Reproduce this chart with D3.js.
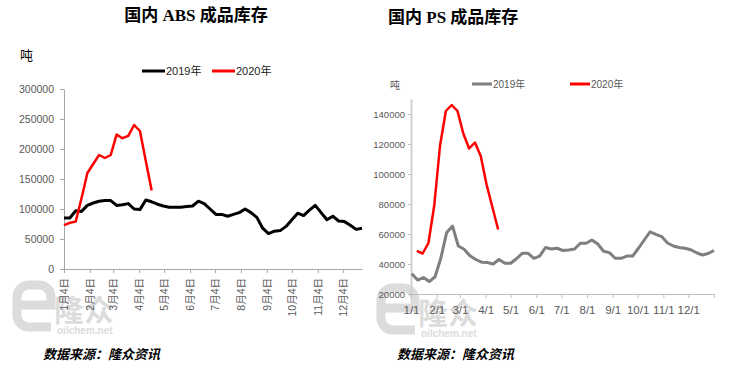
<!DOCTYPE html>
<html lang="zh">
<head>
<meta charset="utf-8">
<title>ABS / PS 成品库存</title>
<script src="https://d3js.org/d3.v7.min.js"></script>
<style>
  body { margin: 0; background: #fff; }
  svg text { font-family: Arial, "Liberation Sans", "Noto Sans CJK SC", sans-serif; }
  .title { font-family: "Liberation Serif", "Noto Sans CJK SC", serif; font-weight: bold; font-size: 17px; fill: #000; }
  .src { font-family: "Liberation Serif", "Noto Sans CJK SC", serif; font-weight: bold; font-style: italic; font-size: 13px; fill: #000; }
</style>
</head>
<body>
<div id="chart"></div>
<script>
// ---- ABS data (weekly, 2019 from 1/4, 2020 from 1/3 plotted on same week slots)
const absStart = "2019-01-04";
const abs2019 = [85000, 85000, 97000, 96000, 106000, 110000, 113000, 114000, 114000, 106000,
  107000, 109000, 100000, 99000, 115000, 112000, 108000, 105000, 103000, 103000,
  103000, 104000, 105000, 113000, 109000, 100000, 91000, 91000, 88000, 91000,
  94000, 100000, 94000, 86000, 68000, 59000, 63000, 64000, 71000, 82000,
  93000, 89000, 98000, 106000, 94000, 82000, 88000, 80000, 79000, 73000,
  66000, 68000];
const abs2020 = [73000, 77000, 79000, 118000, 160000, 175000, 190000, 185000, 190000, 224000,
  218000, 222000, 240000, 230000, 180000, 131000];
const absTicks = ["1月4日", "2月4日", "3月4日", "4月4日", "5月4日", "6月4日", "7月4日", "8月4日",
  "9月4日", "10月4日", "11月4日", "12月4日"];
const absYTicks = [0, 50000, 100000, 150000, 200000, 250000, 300000];

// ---- PS data (weekly, 2019 from 1/2, 2020 from 1/8 day-of-year)
const psStart2019 = "2019-01-02";
const ps2019 = [33500, 29300, 31000, 28300, 31500, 44000, 61000, 65300, 52000, 49800,
  45500, 43000, 41200, 41000, 40000, 43000, 40500, 40500, 43500, 47100,
  47100, 43800, 45300, 51000, 50000, 50500, 49000, 49300, 50000, 53800,
  53800, 56000, 53300, 48500, 47600, 43800, 43800, 45300, 45300, 50500,
  56000, 61500, 59800, 58300, 54000, 52000, 51000, 50500, 49500, 47500,
  46000, 47000, 49000];
const psStart2020 = "2019-01-08";
const ps2020 = [48700, 47000, 54000, 79000, 119000, 142000, 146000, 142000, 127000, 117000,
  121000, 112000, 93000, 78000, 63000];
const psTicks = ["1/1", "2/1", "3/1", "4/1", "5/1", "6/1", "7/1", "8/1", "9/1", "10/1", "11/1", "12/1"];
const psYTicks = [20000, 40000, 60000, 80000, 100000, 120000, 140000];

const parse = d3.timeParse("%Y-%m-%d");
const weekly = (start, vals) => vals.map((v, i) => ({ date: d3.timeDay.offset(parse(start), 7 * i), value: v }));

const svg = d3.select("#chart").append("svg")
  .attr("width", 733).attr("height", 373);

// watermark logo
function logo(g, x, y) {
  const c = "#dcdcdc";
  g.append("path")
    .attr("d", `M${x+4},${y+20} h33 v-8 a12,12 0 0 0 -12,-12 h-10 a12,12 0 0 0 -12,12 v18 a12,12 0 0 0 12,12 h22`)
    .attr("fill", "none").attr("stroke", c).attr("stroke-width", 9);
  g.append("text").attr("x", x + 40).attr("y", y + 36).text("隆众")
    .attr("font-size", 30).attr("font-weight", "bold").attr("fill", c)
    .style("font-family", "'Noto Sans CJK SC', sans-serif");
  g.append("text").attr("x", x + 43).attr("y", y + 49).text("oilchem.net")
    .attr("font-size", 10).attr("font-weight", "bold").attr("fill", c);
}

// ============ Left: ABS ============
const gL = svg.append("g");
logo(gL, 14, 285);

gL.append("text").attr("class", "title").attr("x", 196).attr("y", 21)
  .attr("text-anchor", "middle").text("国内 ABS 成品库存");
gL.append("text").attr("x", 20).attr("y", 60).attr("font-size", 13).attr("fill", "#000").text("吨");

const xL = d3.scaleTime().domain([parse("2019-01-04"), parse("2019-12-27")]).range([64, 362]);
const yL = d3.scaleLinear().domain([0, 300000]).range([269, 89]);

const yAxL = gL.append("g").attr("transform", "translate(64,0)")
  .call(d3.axisLeft(yL).tickValues(absYTicks).tickSize(4).tickSizeOuter(0).tickFormat(d3.format("d")));
yAxL.selectAll("text").attr("fill", "#595959").attr("font-size", 10.5).attr("x", -10);

const absTickDates = absTicks.map((t, i) => new Date(2019, i, 4));
const xAxL = gL.append("g").attr("transform", "translate(0,269)")
  .call(d3.axisBottom(xL).tickValues(absTickDates).tickSize(4).tickSizeOuter(0)
    .tickFormat((d, i) => absTicks[i]));
xAxL.selectAll("text")
  .attr("transform", "rotate(-90)").attr("x", -9).attr("y", 0).attr("dy", "0.35em")
  .attr("text-anchor", "end").attr("fill", "#595959").attr("font-size", 10.5);
[yAxL, xAxL].forEach(a => {
  a.select(".domain").attr("stroke", "#a6a6a6");
  a.selectAll(".tick line").attr("stroke", "#a6a6a6");
});

const lineL = d3.line().x(d => xL(d.date)).y(d => yL(d.value));
gL.append("path").datum(weekly(absStart, abs2019)).attr("d", lineL)
  .attr("fill", "none").attr("stroke", "#000").attr("stroke-width", 3).attr("stroke-linejoin", "round");
gL.append("path").datum(weekly(absStart, abs2020)).attr("d", lineL)
  .attr("fill", "none").attr("stroke", "#ff0000").attr("stroke-width", 2.5).attr("stroke-linejoin", "round");

// legend
const legL = [{ name: "2019年", color: "#000", x: 142 }, { name: "2020年", color: "#ff0000", x: 212 }];
legL.forEach(l => {
  gL.append("line").attr("x1", l.x).attr("x2", l.x + 23).attr("y1", 71).attr("y2", 71)
    .attr("stroke", l.color).attr("stroke-width", 3);
  gL.append("text").attr("x", l.x + 24).attr("y", 75).attr("font-size", 11).attr("fill", "#222").text(l.name);
});

gL.append("text").attr("class", "src").attr("x", 43).attr("y", 359).text("数据来源：隆众资讯");

// ============ Right: PS ============
const gR = svg.append("g");
logo(gR, 378, 288);

gR.append("text").attr("class", "title").attr("x", 388).attr("y", 23).text("国内 PS 成品库存");
gR.append("text").attr("x", 390).attr("y", 89).attr("font-size", 10).attr("fill", "#595959").text("吨");

const xR = d3.scaleTime().domain([parse("2019-01-01"), parse("2020-01-01")]).range([411, 714]);
const yR = d3.scaleLinear().domain([20000, 150000]).range([294, 99]);

const yAxR = gR.append("g").attr("transform", "translate(411,0)")
  .call(d3.axisLeft(yR).tickValues(psYTicks).tickSize(3).tickSizeOuter(0).tickFormat(d3.format("d")));
yAxR.selectAll("text").attr("fill", "#595959").attr("font-size", 9.5).attr("x", -6);
yAxR.select(".domain").attr("stroke", "#d0d0d0").attr("stroke-width", 2);
yAxR.selectAll(".tick line").attr("stroke", "#bfbfbf");

const psTickDates = psTicks.map((t, i) => new Date(2019, i, 1));
const xAxR = gR.append("g").attr("transform", "translate(0,294)")
  .call(d3.axisBottom(xR).tickValues(psTickDates).tickSize(4).tickSizeOuter(4)
    .tickFormat((d, i) => psTicks[i]));
xAxR.selectAll("text").attr("fill", "#595959").attr("font-size", 11.5).attr("y", 12);
xAxR.select(".domain").attr("stroke", "#bfbfbf");
xAxR.selectAll(".tick line").attr("stroke", "#bfbfbf");

const lineR = d3.line().x(d => xR(d.date)).y(d => yR(d.value));
gR.append("path").datum(weekly(psStart2019, ps2019)).attr("d", lineR)
  .attr("fill", "none").attr("stroke", "#7f7f7f").attr("stroke-width", 3).attr("stroke-linejoin", "round");
gR.append("path").datum(weekly(psStart2020, ps2020)).attr("d", lineR)
  .attr("fill", "none").attr("stroke", "#ff0000").attr("stroke-width", 2.5).attr("stroke-linejoin", "round");

const legR = [{ name: "2019年", color: "#7f7f7f", x: 472 }, { name: "2020年", color: "#ff0000", x: 570 }];
legR.forEach(l => {
  gR.append("line").attr("x1", l.x).attr("x2", l.x + 20).attr("y1", 84).attr("y2", 84)
    .attr("stroke", l.color).attr("stroke-width", 3);
  gR.append("text").attr("x", l.x + 21).attr("y", 88).attr("font-size", 10).attr("fill", "#595959").text(l.name);
});

gR.append("text").attr("class", "src").attr("x", 397).attr("y", 359).text("数据来源：隆众资讯");
</script>
</body>
</html>
